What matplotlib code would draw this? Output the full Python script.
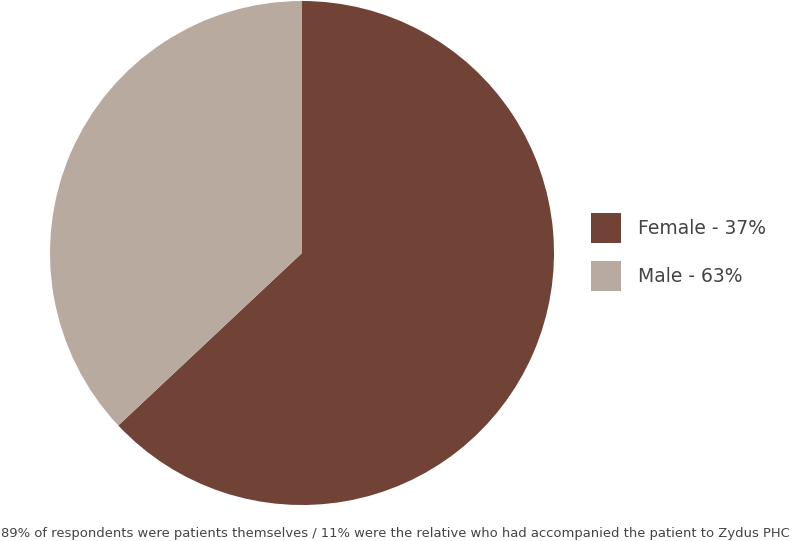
import matplotlib
matplotlib.use('Agg')
import matplotlib.pyplot as plt

labels = ['Female - 37%', 'Male - 63%']
values = [63, 37]
colors = ['#714236', '#b8aa9e']
note = '89% of respondents were patients themselves / 11% were the relative who had accompanied the patient to Zydus PHC'

fig = plt.figure(figsize=(8.01, 5.41), dpi=100)
ax = fig.add_axes([50/801, 36/541, 504/801, 504/541])

wedges, _ = ax.pie(values, colors=colors, startangle=90, counterclock=False,
                   radius=1, wedgeprops=dict(linewidth=0))
ax.set_xlim(-1, 1)
ax.set_ylim(-1, 1)
ax.set_aspect('equal')
ax.axis('off')

leg = fig.legend(wedges, labels, loc='center left', bbox_to_anchor=(583/801, 1 - 252/541),
                 frameon=False, fontsize=13.5, handlelength=1.6, handleheight=2.03,
                 handletextpad=0.95, labelspacing=1.0, borderaxespad=0)
for t in leg.get_texts():
    t.set_color('#444444')

fig.text(1/801, 1 - 533/541, note, fontsize=9.45, color='#444444', va='center', ha='left')

fig.savefig('out.png', dpi=100)
